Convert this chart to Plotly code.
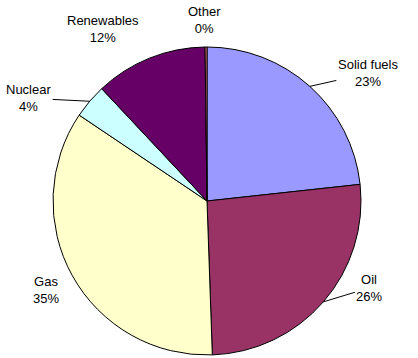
import math
import plotly.graph_objects as go

# Energy mix shares (percent)
categories = ["Solid fuels", "Oil", "Gas", "Nuclear", "Renewables", "Other"]
values = [23.3, 26.2, 35.0, 3.6, 11.8, 0.2]
colors = ["#9999FF", "#993366", "#FFFFCC", "#CCFFFF", "#660066", "#FF8080"]

# label offsets from the slice edge (px) and whether a leader line is drawn
label_offsets = [(58, -13), (46, -14), (-26, 14), (-61, -3), (-46, -29), (-2, -27)]
leader = [True, True, False, True, False, False]

W, H = 418, 358
dom_x = [53 / W, 361 / W]
dom_y = [1 - 355 / H, 1 - 47 / H]

fig = go.Figure(go.Pie(
    labels=categories,
    values=values,
    marker=dict(colors=colors, line=dict(color="black", width=1)),
    sort=False,
    direction="clockwise",
    rotation=0,
    textinfo="none",
    hoverinfo="label+percent",
    domain=dict(x=dom_x, y=dom_y),
    showlegend=False,
))

# centre and radius of the pie in paper units
cx = (dom_x[0] + dom_x[1]) / 2
cy = (dom_y[0] + dom_y[1]) / 2
r_px = min((dom_x[1] - dom_x[0]) * W, (dom_y[1] - dom_y[0]) * H) / 2

total = sum(values)
cum = 0.0
for name, v, (ax, ay), has_line in zip(categories, values, label_offsets, leader):
    mid = (cum + v / 2) / total * 2 * math.pi
    cum += v
    ex = cx + r_px * math.sin(mid) / W
    ey = cy + r_px * math.cos(mid) / H
    pct = round(v / total * 100)
    fig.add_annotation(
        x=ex, y=ey, xref="paper", yref="paper",
        text=f"{name}<br>{pct}%",
        showarrow=True, arrowhead=0, arrowwidth=1,
        arrowcolor="black" if has_line else "rgba(0,0,0,0)",
        ax=ax, ay=ay, standoff=0,
        font=dict(family="Liberation Sans, Arial, sans-serif", size=13, color="black"),
        align="center",
    )

fig.update_layout(
    width=W, height=H,
    margin=dict(l=0, r=0, t=0, b=0),
    paper_bgcolor="white",
    plot_bgcolor="white",
)

fig.write_html("out.html")
